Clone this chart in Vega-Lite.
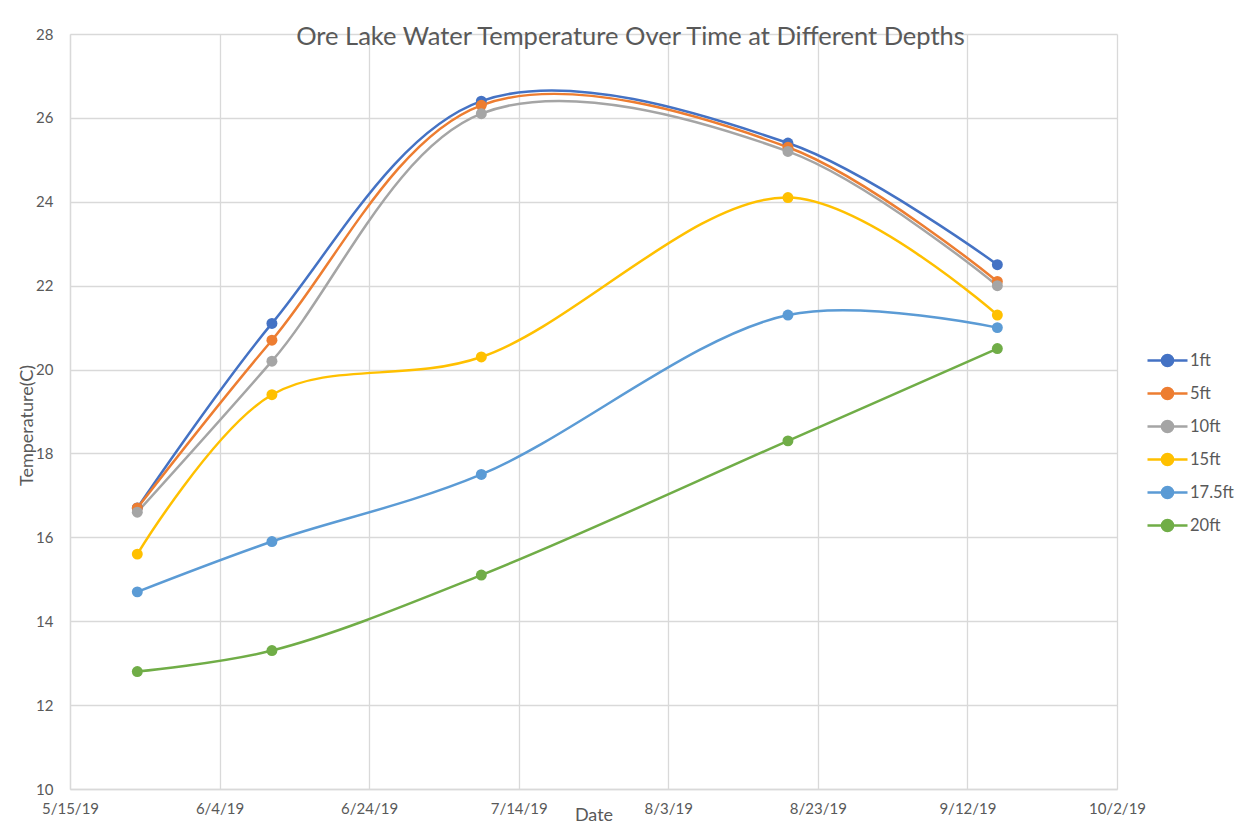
{
  "$schema": "https://vega.github.io/schema/vega-lite/v6.json",
  "width": 1047,
  "height": 755,
  "autosize": {"type": "none"},
  "padding": {"left": 70, "top": 34, "right": 135, "bottom": 35},
  "background": "white",
  "title": {
    "text": "Ore Lake Water Temperature Over Time at Different Depths",
    "frame": "group",
    "anchor": "middle",
    "orient": "top",
    "baseline": "alphabetic",
    "offset": -43,
    "dx": 37,
    "font": "Lato",
    "fontSize": 25.5,
    "fontWeight": "normal",
    "color": "#595959"
  },
  "data": {
    "values": [
      {"date": "2019/05/24", "depth": "1ft", "temp": 16.7},
      {"date": "2019/06/11", "depth": "1ft", "temp": 21.1},
      {"date": "2019/07/09", "depth": "1ft", "temp": 26.4},
      {"date": "2019/08/19", "depth": "1ft", "temp": 25.4},
      {"date": "2019/09/16", "depth": "1ft", "temp": 22.5},
      {"date": "2019/05/24", "depth": "5ft", "temp": 16.7},
      {"date": "2019/06/11", "depth": "5ft", "temp": 20.7},
      {"date": "2019/07/09", "depth": "5ft", "temp": 26.3},
      {"date": "2019/08/19", "depth": "5ft", "temp": 25.3},
      {"date": "2019/09/16", "depth": "5ft", "temp": 22.1},
      {"date": "2019/05/24", "depth": "10ft", "temp": 16.6},
      {"date": "2019/06/11", "depth": "10ft", "temp": 20.2},
      {"date": "2019/07/09", "depth": "10ft", "temp": 26.1},
      {"date": "2019/08/19", "depth": "10ft", "temp": 25.2},
      {"date": "2019/09/16", "depth": "10ft", "temp": 22.0},
      {"date": "2019/05/24", "depth": "15ft", "temp": 15.6},
      {"date": "2019/06/11", "depth": "15ft", "temp": 19.4},
      {"date": "2019/07/09", "depth": "15ft", "temp": 20.3},
      {"date": "2019/08/19", "depth": "15ft", "temp": 24.1},
      {"date": "2019/09/16", "depth": "15ft", "temp": 21.3},
      {"date": "2019/05/24", "depth": "17.5ft", "temp": 14.7},
      {"date": "2019/06/11", "depth": "17.5ft", "temp": 15.9},
      {"date": "2019/07/09", "depth": "17.5ft", "temp": 17.5},
      {"date": "2019/08/19", "depth": "17.5ft", "temp": 21.3},
      {"date": "2019/09/16", "depth": "17.5ft", "temp": 21.0},
      {"date": "2019/05/24", "depth": "20ft", "temp": 12.8},
      {"date": "2019/06/11", "depth": "20ft", "temp": 13.3},
      {"date": "2019/07/09", "depth": "20ft", "temp": 15.1},
      {"date": "2019/08/19", "depth": "20ft", "temp": 18.3},
      {"date": "2019/09/16", "depth": "20ft", "temp": 20.5}
    ]
  },
  "encoding": {
    "x": {
      "field": "date",
      "type": "temporal",
      "title": "Date",
      "scale": {
        "domain": [
          {"year": 2019, "month": 5, "date": 15},
          {"year": 2019, "month": 10, "date": 2}
        ]
      },
      "axis": {
        "values": [
          {"year": 2019, "month": 5, "date": 15},
          {"year": 2019, "month": 6, "date": 4},
          {"year": 2019, "month": 6, "date": 24},
          {"year": 2019, "month": 7, "date": 14},
          {"year": 2019, "month": 8, "date": 3},
          {"year": 2019, "month": 8, "date": 23},
          {"year": 2019, "month": 9, "date": 12},
          {"year": 2019, "month": 10, "date": 2}
        ],
        "format": "%-m/%-d/%y",
        "labelPadding": 12,
        "labelFlush": false,
        "labelOverlap": false,
        "titleY": 17,
        "titleBaseline": "top"
      }
    },
    "y": {
      "field": "temp",
      "type": "quantitative",
      "title": "Temperature(C)",
      "scale": {"domain": [10, 28], "nice": false, "zero": false},
      "axis": {
        "values": [10, 12, 14, 16, 18, 20, 22, 24, 26, 28],
        "labelPadding": 17,
        "titleX": -43,
        "titleY": 391,
        "titleBaseline": "middle",
        "titleAlign": "center"
      }
    },
    "color": {
      "field": "depth",
      "type": "nominal",
      "scale": {
        "domain": ["1ft", "5ft", "10ft", "15ft", "17.5ft", "20ft"],
        "range": ["#4472C4", "#ED7D31", "#A5A5A5", "#FFC000", "#5B9BD5", "#70AD47"]
      },
      "legend": {
        "title": null,
        "orient": "none",
        "legendX": 1076,
        "legendY": 305,
        "symbolType": "M-1,0L1,0M-0.28,0A0.28,0.28,0,1,0,0.28,0A0.28,0.28,0,1,0,-0.28,0Z",
        "symbolSize": 1600,
        "symbolStrokeWidth": 2.5,
        "symbolFillColor": null,
        "labelOffset": 1,
        "labelFont": "Lato",
        "labelFontSize": 16.5,
        "labelColor": "#595959",
        "rowPadding": -3.2,
        "padding": 0
      }
    }
  },
  "layer": [
    {
      "mark": {"type": "line", "interpolate": "catmull-rom", "strokeWidth": 2.5}
    },
    {
      "mark": {"type": "circle", "size": 120, "opacity": 1},
      "encoding": {
        "color": {"field": "depth", "type": "nominal", "legend": null, "scale": {
        "domain": ["1ft", "5ft", "10ft", "15ft", "17.5ft", "20ft"],
        "range": ["#4472C4", "#ED7D31", "#A5A5A5", "#FFC000", "#5B9BD5", "#70AD47"]
      }}
      }
    }
  ],
  "config": {
    "view": {"stroke": null},
    "axis": {
      "grid": true,
      "gridColor": "#d9d9d9",
      "gridWidth": 1.3,
      "domainColor": "#d9d9d9",
      "domainWidth": 1.3,
      "ticks": false,
      "labelFont": "Lato",
      "labelFontSize": 15,
      "labelColor": "#595959",
      "titleFont": "Lato",
      "titleFontSize": 18,
      "titleFontWeight": "normal",
      "titleColor": "#595959"
    }
  }
}
